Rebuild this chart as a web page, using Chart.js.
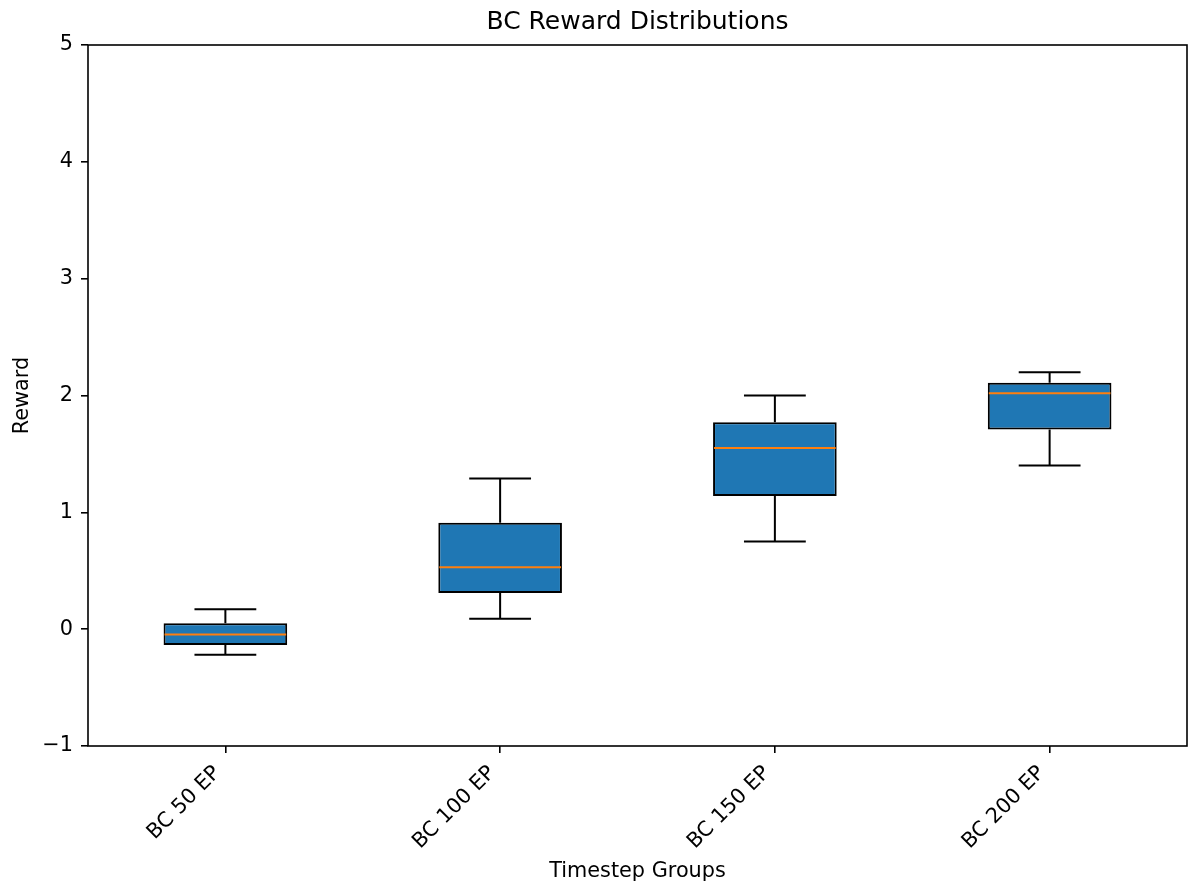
<!DOCTYPE html>
<html>
<head>
<meta charset="utf-8">
<title>BC Reward Distributions</title>
<script src="https://cdn.jsdelivr.net/npm/chart.js@4.4.1/dist/chart.umd.min.js"></script>
<style>
  html, body { margin: 0; padding: 0; background: #ffffff; }
  canvas { display: block; }
</style>
</head>
<body>
<canvas id="chart" width="1188" height="887"></canvas>
<script>
// Box-plot statistics per training group
const categories = ['BC 50 EP', 'BC 100 EP', 'BC 150 EP', 'BC 200 EP'];
const whiskerLow  = [-0.22, 0.09, 0.75, 1.40];
const q1          = [-0.135, 0.31, 1.14, 1.71];
const median      = [-0.045, 0.53, 1.55, 2.02];
const q3          = [0.05, 0.91, 1.77, 2.11];
const whiskerHigh = [0.17, 1.29, 2.00, 2.20];
const yMin = -1;
const yMax = 5;
const yStep = 1;

const FONT = "'DejaVu Sans', 'Liberation Sans', sans-serif";
const BOX_FILL = '#1f77b4';
const MEDIAN_COLOR = '#ff7f0e';
const LINE_W = 2;
const SPINE_W = 1.6;

// Whiskers, caps and median lines drawn on top of the floating bars
const boxDecorations = {
  id: 'boxDecorations',
  afterDatasetsDraw(chart) {
    const { ctx } = chart;
    const xs = chart.scales.x;
    const ys = chart.scales.y;
    const meta = chart.getDatasetMeta(0);
    ctx.save();
    ctx.lineCap = 'butt';
    categories.forEach((_, i) => {
      const el = meta.data[i];
      const cx = xs.getPixelForValue(i);
      const half = el.width / 2;
      const capHalf = el.width / 4;
      const yLo = ys.getPixelForValue(whiskerLow[i]);
      const yHi = ys.getPixelForValue(whiskerHigh[i]);
      const yQ1 = ys.getPixelForValue(q1[i]);
      const yQ3 = ys.getPixelForValue(q3[i]);
      const yMed = ys.getPixelForValue(median[i]);

      ctx.strokeStyle = '#000000';
      ctx.lineWidth = LINE_W;
      ctx.beginPath();
      ctx.moveTo(cx, yQ1); ctx.lineTo(cx, yLo);
      ctx.moveTo(cx, yQ3); ctx.lineTo(cx, yHi);
      ctx.moveTo(cx - capHalf, yLo); ctx.lineTo(cx + capHalf, yLo);
      ctx.moveTo(cx - capHalf, yHi); ctx.lineTo(cx + capHalf, yHi);
      ctx.stroke();

      ctx.strokeStyle = MEDIAN_COLOR;
      ctx.beginPath();
      ctx.moveTo(cx - half + 1, yMed); ctx.lineTo(cx + half - 1, yMed);
      ctx.stroke();
    });
    ctx.restore();
  }
};

// Full rectangular frame around the plotting area
const frame = {
  id: 'frame',
  afterDraw(chart) {
    const { ctx, chartArea: a } = chart;
    ctx.save();
    ctx.strokeStyle = '#000000';
    ctx.lineWidth = SPINE_W;
    ctx.strokeRect(a.left, a.top, a.right - a.left, a.bottom - a.top);
    ctx.restore();
  }
};

new Chart(document.getElementById('chart'), {
  type: 'bar',
  data: {
    labels: categories,
    datasets: [{
      data: categories.map((_, i) => [q1[i], q3[i]]),
      backgroundColor: BOX_FILL,
      borderColor: '#000000',
      borderWidth: LINE_W,
      borderSkipped: false,
      barPercentage: 0.45,
      categoryPercentage: 1.0
    }]
  },
  options: {
    responsive: false,
    animation: false,
    layout: { padding: { left: 0, right: 1, top: 0, bottom: 0 } },
    plugins: {
      legend: { display: false },
      tooltip: { enabled: false },
      title: {
        display: true,
        fullSize: false,
        text: 'BC Reward Distributions',
        color: '#000000',
        font: { family: FONT, size: 25, weight: 'normal', lineHeight: 1.2 },
        padding: { top: 7, bottom: 8 }
      }
    },
    scales: {
      x: {
        offset: true,
        afterFit(scale) { scale.height = 141; },
        grid: {
          offset: false,
          drawOnChartArea: false,
          drawTicks: true,
          tickLength: 7,
          color: '#000000',
          lineWidth: SPINE_W
        },
        border: { display: false },
        ticks: {
          color: '#000000',
          font: { family: FONT, size: 20.8 },
          minRotation: 45,
          maxRotation: 45,
          autoSkip: false,
          padding: 8,
          labelOffset: -8
        },
        title: {
          display: true,
          text: 'Timestep Groups',
          color: '#000000',
          font: { family: FONT, size: 20.8, lineHeight: 1.2 },
          padding: { top: 0, bottom: 3 }
        }
      },
      y: {
        min: yMin,
        max: yMax,
        afterFit(scale) { scale.width = 88; },
        grid: {
          drawOnChartArea: false,
          drawTicks: true,
          tickLength: 7,
          color: '#000000',
          lineWidth: SPINE_W
        },
        border: { display: false },
        ticks: {
          stepSize: yStep,
          color: '#000000',
          font: { family: FONT, size: 20.8 },
          padding: 8,
          callback: (v) => String(v).replace('-', '\u2212')
        },
        title: {
          display: true,
          text: 'Reward',
          color: '#000000',
          font: { family: FONT, size: 20.8, lineHeight: 1.2 },
          padding: { top: 10, bottom: 0 }
        }
      }
    }
  },
  plugins: [boxDecorations, frame]
});
</script>
</body>
</html>
